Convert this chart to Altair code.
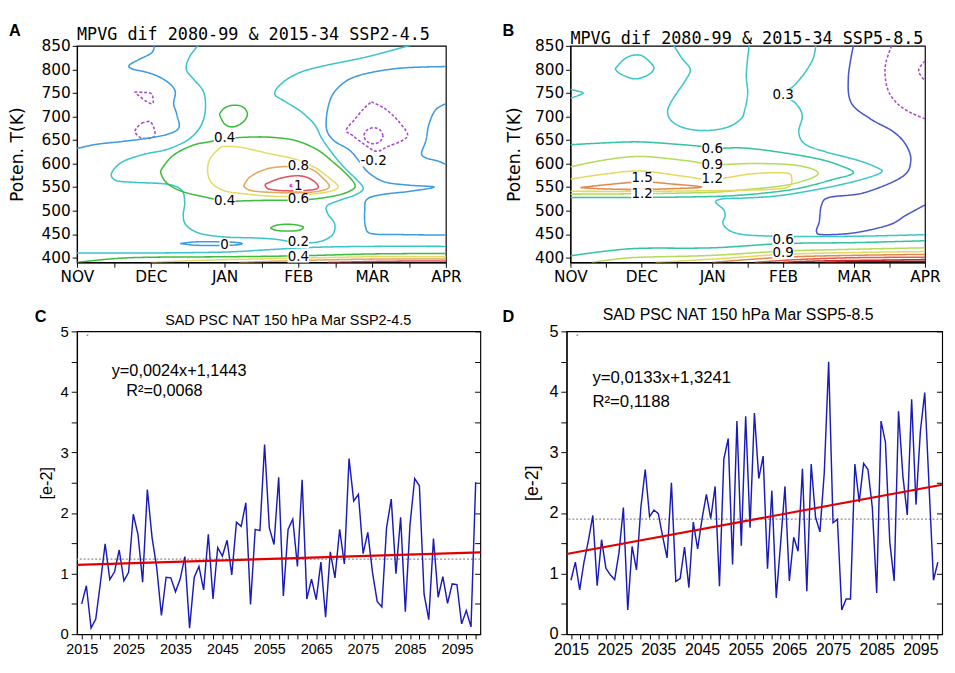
import json
import altair as alt
import pandas as pd

# ---------------- shared axis labels ----------------
MONTHS = ["NOV", "DEC", "JAN", "FEB", "MAR", "APR"]
THETA_TICKS = [400, 450, 500, 550, 600, 650, 700, 750, 800, 850]
YEARS = list(range(2015, 2100))

# ---------------- panel C / D time series ----------------
SAD_SSP245 = [0.50, 0.80, 0.10, 0.25, 0.85, 1.49, 0.90, 1.03, 1.39, 0.88,
              1.02, 1.98, 1.65, 0.86, 2.39, 1.60, 1.10, 0.31, 0.94, 0.93,
              0.70, 0.91, 1.28, 0.10, 0.94, 1.12, 0.73, 1.65, 0.58, 1.43,
              1.29, 1.55, 0.98, 1.85, 1.78, 2.17, 0.49, 1.73, 1.71, 3.13,
              1.76, 1.48, 2.59, 0.63, 1.73, 1.90, 1.12, 2.55, 0.58, 0.91,
              0.57, 1.19, 0.28, 1.36, 0.93, 1.73, 1.16, 2.90, 2.20, 2.31,
              1.33, 1.68, 1.02, 0.54, 0.45, 1.76, 2.23, 1.00, 1.93, 0.37,
              1.81, 2.57, 2.45, 0.66, 0.24, 1.58, 0.61, 0.95, 0.51, 0.83,
              0.82, 0.17, 0.39, 0.12, 2.51]
SAD_SSP585 = [0.89, 1.19, 0.73, 1.20, 1.55, 1.96, 0.80, 1.56, 1.09, 0.98,
              0.90, 1.35, 2.09, 0.40, 1.45, 1.06, 2.09, 2.72, 1.94, 2.05,
              1.99, 1.61, 1.26, 2.50, 0.87, 0.92, 1.44, 0.77, 1.85, 1.41,
              1.90, 2.31, 1.91, 2.44, 0.79, 2.89, 3.23, 1.15, 3.52, 1.46,
              3.60, 1.76, 3.65, 2.57, 2.94, 1.08, 2.37, 0.60, 1.50, 2.44,
              0.88, 1.60, 1.37, 2.73, 0.71, 2.81, 1.93, 1.69, 2.67, 4.50,
              1.84, 1.90, 0.40, 0.58, 0.58, 2.81, 2.18, 2.82, 2.72, 2.09,
              0.68, 3.52, 3.17, 1.52, 0.88, 3.68, 2.61, 1.97, 3.88, 2.14,
              3.35, 3.99, 2.43, 0.89, 1.19]
FIT_SSP245 = (0.0024, 1.1443)   # slope, intercept (x = year index)
FIT_SSP585 = (0.0133, 1.3241)
TREND_YEARS = [2014, 2100]

# ---------------- panel A contours (month index, potential temperature) ----------------
A_NEG_DEC_UP = [(0.78, 752), (0.90, 751), (1.01, 748), (1.03, 728), (0.94, 732), (0.84, 744), (0.78, 752)]
A_NEG_DEC_LO = [(0.88, 686), (0.99, 689), (1.05, 672), (1.04, 656), (0.88, 654), (0.79, 666), (0.81, 676), (0.88, 686)]
A_NEG_MAR = [(3.99, 731), (4.17, 717), (4.34, 693), (4.48, 663), (4.41, 649), (4.21, 636), (4.06, 626),
             (3.91, 639), (3.74, 659), (3.65, 671), (3.76, 693), (3.89, 717), (3.99, 731)]
A_NEG_MAR_IN = [(4.15, 659), (4.11, 671), (4.02, 676), (3.93, 671), (3.89, 659), (3.93, 647), (4.02, 642),
                (4.11, 647), (4.15, 659)]
A_ZERO_DEC = [(0, 632), (0.27, 641), (0.62, 647), (0.92, 653), (1.22, 662), (1.38, 676), (1.35, 706),
              (1.31, 727), (1.33, 754), (1.22, 774), (1.01, 791), (0.75, 801), (0.71, 809), (0.84, 821),
              (1.01, 835), (1.05, 850)]
A_ZERO_MAR = [(5.0, 806), (4.34, 802), (3.78, 785), (3.52, 758), (3.41, 724), (3.38, 676), (3.48, 649),
              (3.69, 629), (3.84, 602), (3.95, 581), (4.17, 561), (4.51, 554), (4.84, 550), (4.51, 541),
              (4.13, 534), (3.93, 524), (3.90, 500), (3.91, 466), (4.0, 451), (4.43, 449), (5.0, 448)]
A_ZERO_APR = [(5.0, 727), (4.86, 714), (4.77, 683), (4.73, 649), (4.67, 622), (4.73, 612), (4.90, 605), (5.0, 598)]
A_ZERO_JAN = [(1.40, 430), (1.6, 433.5), (1.9, 434), (2.15, 432.5), (2.24, 430), (2.15, 427), (1.9, 426),
              (1.6, 426.5), (1.40, 430)]
A_P02_MAIN = [(1.64, 850), (1.53, 828), (1.48, 801), (1.57, 781), (1.70, 757), (1.74, 733), (1.73, 703),
              (1.66, 675), (1.50, 650), (1.22, 630), (0.92, 620), (0.62, 604), (0.47, 580), (0.53, 564),
              (0.79, 560), (1.23, 556), (1.42, 543), (1.46, 517), (1.44, 490), (1.48, 469), (1.66, 452),
              (2.0, 444), (2.4, 442), (2.7, 439), (3.0, 432), (3.25, 433), (3.4, 441), (3.48, 453),
              (3.49, 473), (3.40, 493), (3.39, 510), (3.56, 522), (3.78, 534), (3.88, 547), (3.79, 566),
              (3.62, 592), (3.46, 622), (3.32, 653), (3.22, 683), (3.04, 710), (2.83, 731), (2.68, 748),
              (2.78, 771), (3.0, 792), (3.30, 806), (3.91, 826), (4.47, 849), (4.52, 851)]
A_P02_LOW = [(0, 410), (1, 410), (2, 412), (2.6, 417), (3.2, 422), (4, 424), (5, 424)]
A_P04_MAIN = [(2.0, 653), (2.3, 656), (2.61, 656), (2.96, 649), (3.26, 629), (3.48, 602), (3.65, 578),
              (3.77, 554), (3.69, 541), (3.48, 531), (3.17, 524), (2.87, 522), (2.61, 522), (2.3, 521),
              (2.0, 520), (1.79, 527), (1.44, 540), (1.23, 557), (1.14, 578), (1.16, 591), (1.31, 618),
              (1.57, 639), (1.79, 646), (2.0, 653)]
A_P04_JAN = [(1.93, 705), (2.0, 718), (2.12, 724), (2.25, 720), (2.31, 705), (2.25, 688), (2.12, 678),
             (2.0, 684), (1.93, 705)]
A_P04_FEB = [(2.62, 463), (2.7, 469), (2.85, 471), (3.0, 469), (3.07, 464), (3.0, 458), (2.85, 456.5),
             (2.7, 458), (2.62, 463)]
A_P04_LOW = [(0, 390), (0.5, 398), (1, 401), (2, 402), (3, 404), (4, 408), (5, 409)]
A_P06_MAIN = [(1.96, 636), (2.2, 635), (2.61, 621), (2.96, 609), (3.22, 592), (3.43, 568), (3.54, 551),
              (3.43, 541), (3.13, 534), (2.8, 530), (2.5, 532), (2.2, 537), (2.0, 542), (1.83, 558),
              (1.77, 584), (1.81, 612), (1.96, 636)]
A_P06_LOW = [(1.0, 390), (1.8, 395), (3, 399), (4, 402), (5, 402)]
A_P08_MAIN = [(2.26, 552), (2.35, 572), (2.61, 590), (3.0, 594), (3.2, 586), (3.34, 568), (3.42, 551),
              (3.30, 542), (3.04, 538), (2.61, 539), (2.35, 543), (2.26, 552)]
A_P08_LOW = [(2.2, 390), (3, 394), (4, 397), (5, 397)]
A_P10_MAIN = [(2.55, 556), (2.74, 568), (2.96, 574), (3.13, 570), (3.26, 555), (3.22, 545), (2.87, 542),
              (2.6, 546), (2.55, 556)]
A_P10_LOW = [(3.4, 390), (4.2, 392.5), (5, 393)]
A_P12_MAIN = [(2.88, 553), (2.95, 558), (3.03, 557), (3.04, 551), (2.95, 549), (2.88, 553)]
A_LABELS = [("0.4", 2.0, 653), ("0.4", 2.0, 520), ("0.8", 3.0, 595), ("1", 3.0, 553), ("0.6", 3.0, 524),
            ("-0.2", 4.02, 605), ("0", 2.0, 427), ("0.2", 3.0, 432), ("0.4", 3.0, 401)]

# ---------------- panel B contours ----------------
B_NEG_A = [(4.53, 850), (4.45, 815), (4.44, 784), (4.49, 752), (4.62, 726), (4.80, 708), (5.0, 695)]
B_NEG_B = [(5.0, 818), (4.91, 797), (5.0, 776)]
B_ZERO = [(3.99, 850), (3.92, 784), (3.96, 729), (4.23, 695), (4.55, 668), (4.73, 640), (4.80, 606),
          (4.68, 572), (4.14, 538), (3.65, 528), (3.54, 511), (3.51, 477), (3.47, 456), (3.56, 449),
          (4.01, 453), (4.50, 470), (4.73, 490), (5.0, 512)]
B_P03_NOV = [(0, 758), (0.1, 754), (0.18, 750), (0.1, 744), (0, 739)]
B_P03_DEC = [(0.63, 801), (0.79, 825), (0.99, 830), (1.15, 811), (1.17, 799), (1.08, 787), (0.90, 780),
             (0.70, 791), (0.63, 801)]
B_P03_U = [(1.46, 850), (1.58, 822), (1.69, 800), (1.62, 776), (1.51, 752), (1.41, 728), (1.37, 709),
           (1.43, 690), (1.6, 676), (1.87, 670), (2.19, 676), (2.40, 694), (2.46, 715), (2.50, 750),
           (2.48, 790), (2.52, 850)]
B_P03_MAIN = [(3.46, 850), (3.42, 822), (3.3, 792), (3.15, 765), (3.0, 746), (3.17, 729), (3.27, 702),
              (3.22, 667), (3.31, 641), (3.6, 625), (4.05, 607), (4.3, 593), (4.39, 582), (4.15, 568),
              (3.75, 553), (3.3, 540), (2.9, 531), (2.5, 527), (2.15, 525), (2.05, 518), (2.16, 502),
              (2.18, 488), (2.15, 474), (2.22, 460), (2.4, 450), (2.8, 446), (3.5, 445), (4.2, 446), (5.0, 449)]
B_P06_MAIN = [(0, 640), (0.5, 644), (0.97, 646), (1.5, 641), (1.87, 636), (2.0, 632), (2.45, 633),
              (3.0, 623), (3.49, 610), (3.8, 596), (3.99, 580), (3.7, 566), (3.3, 550), (3.0, 542),
              (2.5, 534), (2.0, 530), (1.0, 528), (0, 528)]
B_P06_LOW = [(0, 404), (0.5, 414), (1.0, 420), (2.0, 421), (3.0, 430), (4.0, 432), (5.0, 436)]
B_P09_MAIN = [(0, 593), (0.5, 608), (1.0, 615), (1.64, 606), (2.0, 598), (2.55, 600), (3.08, 598),
              (3.4, 589), (3.49, 577), (3.3, 564), (3.0, 553), (2.5, 545), (2.0, 539), (1.0, 536), (0, 535)]
B_P09_LOW = [(0.3, 390), (0.7, 398), (1.0, 401), (2.0, 405), (3.0, 414), (4.0, 418), (5.0, 421)]
B_P12_MAIN = [(0, 567), (0.5, 578), (1.0, 584), (1.64, 572), (2.0, 566), (2.55, 578), (3.04, 580),
              (3.12, 569), (3.09, 552), (2.9, 546), (2.32, 543), (1.0, 541), (0, 541)]
B_P12_LOW = [(1.2, 390), (2.0, 397), (3.0, 407), (4.0, 411), (5.0, 413)]
B_P15_MAIN = [(0.14, 549), (0.5, 555), (1.0, 561), (1.4, 557), (1.85, 550), (1.4, 546.5), (1.0, 545),
              (0.5, 546), (0.14, 549)]
B_P15_LOW = [(2.0, 390), (3.0, 401), (4.0, 405), (5.0, 407)]
B_P18_LOW = [(2.6, 390), (3.2, 396), (4.0, 400), (5.0, 401)]
B_P21_LOW = [(3.0, 390), (3.5, 393), (4.5, 395), (5.0, 396)]
B_P24_LOW = [(3.6, 390), (4.2, 392), (5.0, 392)]
B_LABELS = [("1.5", 1.01, 568), ("1.2", 1.01, 535), ("0.6", 2.0, 631), ("0.9", 2.0, 597), ("1.2", 2.0, 566),
            ("0.3", 3.0, 746), ("0.6", 3.0, 437), ("0.9", 3.0, 409)]

A_ITEMS = [("n1", "-0.2", A_NEG_DEC_UP), ("n2", "-0.2", A_NEG_DEC_LO), ("n3", "-0.2", A_NEG_MAR),
           ("n4", "-0.4", A_NEG_MAR_IN), ("z1", "0", A_ZERO_DEC), ("z2", "0", A_ZERO_MAR),
           ("z3", "0", A_ZERO_APR), ("z4", "0", A_ZERO_JAN), ("c1", "0.2", A_P02_MAIN),
           ("c2", "0.2", A_P02_LOW), ("g1", "0.4", A_P04_MAIN), ("g2", "0.4", A_P04_JAN),
           ("g3", "0.4", A_P04_FEB), ("g4", "0.4", A_P04_LOW), ("y1", "0.6", A_P06_MAIN),
           ("y2", "0.6", A_P06_LOW), ("o1", "0.8", A_P08_MAIN), ("o2", "0.8", A_P08_LOW),
           ("r1", "1.0", A_P10_MAIN), ("r2", "1.0", A_P10_LOW), ("m1", "1.2", A_P12_MAIN)]
B_ITEMS = [("n1", "-0.3", B_NEG_A), ("n2", "-0.3", B_NEG_B), ("z1", "0", B_ZERO),
           ("c1", "0.3", B_P03_NOV), ("c2", "0.3", B_P03_DEC), ("c3", "0.3", B_P03_U), ("c4", "0.3", B_P03_MAIN),
           ("t1", "0.6", B_P06_MAIN), ("t2", "0.6", B_P06_LOW), ("g1", "0.9", B_P09_MAIN), ("g2", "0.9", B_P09_LOW),
           ("y1", "1.2", B_P12_MAIN), ("y2", "1.2", B_P12_LOW), ("o1", "1.5", B_P15_MAIN), ("o2", "1.5", B_P15_LOW),
           ("r1", "1.8", B_P18_LOW), ("r2", "2.1", B_P21_LOW), ("r3", "2.4", B_P24_LOW)]

COLOR_KEYS = ["A:-0.2", "A:-0.4", "A:0", "A:0.2", "A:0.4", "A:0.6", "A:0.8", "A:1.0", "A:1.2",
              "B:-0.3", "B:0", "B:0.3", "B:0.6", "B:0.9", "B:1.2", "B:1.5", "B:1.8", "B:2.1", "B:2.4"]
COLOR_VALUES = ["#a64ac9", "#a64ac9", "#3d9be0", "#3cc4cc", "#3dbd3d", "#e3dc6a", "#e3a95e", "#e2505e", "#e23ee0",
                "#a64ac9", "#4b55cc", "#3cc6c8", "#35c4a0", "#b4dc5a", "#e5d862", "#e08a52", "#e85a48",
                "#cc2a2a", "#9a1010"]
DASHED = ["A:-0.2", "A:-0.4", "A:1.2", "B:-0.3"]

# white boxes behind contour labels (custom symbol paths, by label length)
BOX_PATHS = {1: "M-0.7,-0.75L0.7,-0.75L0.7,0.75L-0.7,0.75Z",
             3: "M-1.5,-0.75L1.5,-0.75L1.5,0.75L-1.5,0.75Z",
             4: "M-1.9,-0.75L1.9,-0.75L1.9,0.75L-1.9,0.75Z"}


def contour_df(panel, items):
    rows = []
    for cid, level, pts in items:
        key = panel + ":" + level
        for i, (m, k) in enumerate(pts):
            rows.append({"cid": panel + cid, "key": key, "dash": "d" if key in DASHED else "s",
                         "seq": i, "m": m, "K": k})
    return pd.DataFrame(rows)


def text_layer(text, x, y, align, font, size, weight="normal", color="black"):
    return alt.Chart(pd.DataFrame({"t": [text]})).mark_text(
        align=align, baseline="alphabetic", font=font, fontSize=size, fontWeight=weight, color=color
    ).encode(x=alt.value(x), y=alt.value(y), text="t:N")


def letter_layer(letter, x):
    return alt.Chart(pd.DataFrame({"t": [letter]})).mark_text(
        align="left", baseline="top", font="Liberation Sans", fontSize=17, fontWeight="bold", color="black"
    ).encode(x=alt.value(x), y=alt.value(-23), text="t:N")


def contour_panel(panel, items, labels, title, width, height, letter, title_y, ytitle_pad):
    df = contour_df(panel, items)
    lab = pd.DataFrame(labels, columns=["t", "m", "K"])
    lab["n"] = lab["t"].str.len().astype(str)
    month_expr = "datum.value % 1 == 0 ? " + json.dumps(MONTHS) + "[datum.value] : ''"
    X = alt.X("m:Q", scale=alt.Scale(domain=[0, 5], nice=False, zero=False),
              axis=alt.Axis(values=[i * 0.5 for i in range(11)], labelExpr=month_expr, title=None,
                            tickSize=5, labelPadding=2, labelFont="DejaVu Sans", labelFontSize=16,
                            labelOverlap=False, labelFlush=False, grid=False))
    Y = alt.Y("K:Q", scale=alt.Scale(domain=[390, 850], nice=False, zero=False),
              axis=alt.Axis(values=THETA_TICKS, title="Poten. T(K)", titleFont="DejaVu Sans",
                            titleFontSize=18, titleFontWeight="normal", titlePadding=ytitle_pad,
                            tickSize=5, labelPadding=2, labelFont="DejaVu Sans", labelFontSize=16,
                            labelOverlap=False, labelFlush=False, grid=False))
    lines = alt.Chart(df).mark_line(interpolate="cardinal", strokeWidth=1.6, clip=True).encode(
        x=X, y=Y,
        color=alt.Color("key:N", scale=alt.Scale(domain=COLOR_KEYS, range=COLOR_VALUES), legend=None),
        strokeDash=alt.StrokeDash("dash:N", scale=alt.Scale(domain=["s", "d"], range=[[1, 0], [3, 2]]),
                                  legend=None),
        detail="cid:N", order="seq:Q")
    boxes = alt.Chart(lab).mark_point(filled=True, color="white", opacity=1, size=225, strokeWidth=0).encode(
        x=X, y=Y,
        shape=alt.Shape("n:N", scale=alt.Scale(domain=["1", "3", "4"],
                                               range=[BOX_PATHS[1], BOX_PATHS[3], BOX_PATHS[4]]), legend=None))
    txt = alt.Chart(lab).mark_text(font="DejaVu Sans", fontSize=14, color="black").encode(x=X, y=Y, text="t:N")
    ttl = text_layer(title, 0, title_y, "left", "DejaVu Sans Mono", 17.5)
    return alt.layer(lines, boxes, txt, letter_layer(letter, -71), ttl).properties(width=width, height=height)


def series_panel(values, fit, title, title_size, title_dx, title_y, width, height, letter, letter_x,
                 ann, ann_size, tick_font, ytitle_size, ytitle_pad):
    df = pd.DataFrame({"year": YEARS, "v": values})
    X = alt.X("year:Q", scale=alt.Scale(domain=[2014, 2100], nice=False, zero=False),
              axis=alt.Axis(values=list(range(2015, 2100, 2)),
                            labelExpr="(datum.value - 2015) % 10 == 0 ? datum.value : ''",
                            title=None, tickSize=5, labelPadding=3, labelFont="Liberation Sans",
                            labelFontSize=tick_font, labelOverlap=False, labelFlush=False, grid=False))
    YS = alt.Scale(domain=[0, 5], nice=False, zero=True)
    ticks = [i * 0.5 for i in range(11)]
    Y = alt.Y("v:Q", scale=YS,
              axis=alt.Axis(values=ticks, labelExpr="datum.value % 1 == 0 ? datum.value : ''",
                            title="[e-2]", titleFont="Liberation Sans", titleFontSize=ytitle_size,
                            titleFontWeight="normal", titlePadding=ytitle_pad, tickSize=6, labelPadding=3,
                            labelFont="Liberation Sans", labelFontSize=tick_font + 0.5, labelOverlap=False,
                            labelFlush=False, grid=False))
    Yn = alt.Y("v:Q", scale=YS, axis=None)
    mean_rule = alt.Chart(df).mark_rule(color="#8c8c8c", strokeDash=[2, 2], strokeWidth=1.3).encode(
        y=alt.Y("mean(v):Q", scale=YS,
                axis=alt.Axis(orient="right", values=ticks, labels=False, domain=False, tickSize=6,
                              offset=-6, title=None, grid=False)))
    line = alt.Chart(df).mark_line(color="#1a1ab8", strokeWidth=1.5).encode(x=X, y=Y)
    trend_df = pd.DataFrame({"year": TREND_YEARS,
                             "v": [fit[1] + fit[0] * (yr - 2014) for yr in TREND_YEARS]})
    red = alt.Chart(trend_df).mark_line(color="#e00000", strokeWidth=2.2).encode(x=X, y=Yn)
    ann_df = pd.DataFrame(ann, columns=["t", "year", "v"])
    ann_text = alt.Chart(ann_df).mark_text(align="left", baseline="middle", font="Liberation Sans",
                                           fontSize=ann_size, color="black").encode(x=X, y=Yn, text="t:N")
    ttl = text_layer(title, width / 2 + title_dx, title_y, "center", "Liberation Sans", title_size)
    mark = text_layer("ˊ", 9, 12, "left", "Liberation Sans", 12, color="#444444")
    return alt.layer(mean_rule, line, red, ann_text, letter_layer(letter, letter_x), ttl, mark).resolve_axis(
        y="independent").properties(width=width, height=height)


pa = contour_panel("A", A_ITEMS, A_LABELS, "MPVG dif 2080-99 & 2015-34 SSP2-4.5", 385, 226, "A", -6, 15)
pb = contour_panel("B", B_ITEMS, B_LABELS, "MPVG dif 2080-99 & 2015-34 SSP5-8.5", 370, 226, "B", -2, 12)
pc = series_panel(SAD_SSP245, FIT_SSP245, "SAD PSC NAT 150 hPa Mar SSP2-4.5", 15, 10, -7, 421, 316, "C", -44,
                  [("y=0,0024x+1,1443", 2021.4, 4.34), ("R²=0,0068", 2024.5, 4.01)], 17, 15, 17, 5)
pd_ = series_panel(SAD_SSP585, FIT_SSP585, "SAD PSC NAT 150 hPa Mar SSP5-8.5", 16.5, -17, -12, 392, 316, "D", -67,
                   [("y=0,0133x+1,3241", 2019.9, 4.23), ("R²=0,1188", 2019.9, 3.83)], 17.5, 16.5, 18.5, 8)

chart = alt.concat(
    pa, pb, pc, pd_, columns=2,
    spacing={"row": 22, "column": 17},
    align={"row": "each", "column": "none"},
    padding=0,
).configure_view(
    stroke="black", strokeWidth=1.2
).configure_axis(
    domainColor="black", tickColor="black", labelColor="black", titleColor="black", domainWidth=1.2
)

chart.save("out.html", embed_options={"renderer": "svg", "actions": False})
